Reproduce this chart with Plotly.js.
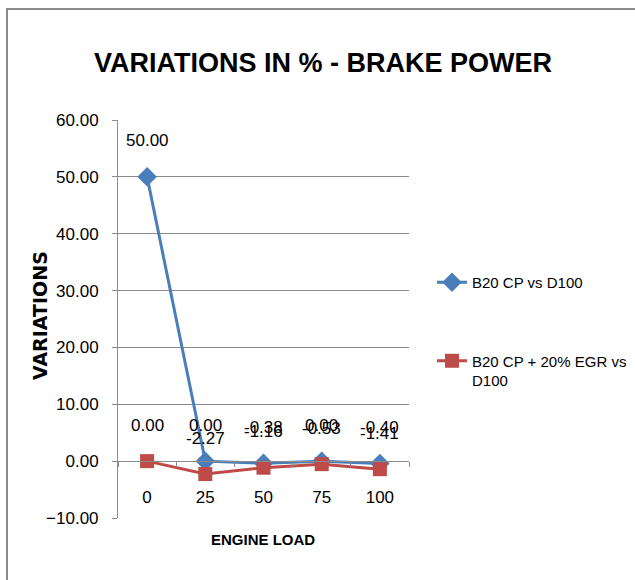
<!DOCTYPE html>
<html>
<head>
<meta charset="utf-8">
<script src="https://cdn.plot.ly/plotly-3.0.1.min.js"></script>
<style>
  html, body { margin: 0; padding: 0; background: #fff; overflow: hidden; width: 635px; height: 580px; }
  #wrap { position: relative; width: 635px; height: 580px; overflow: hidden; background: #fff; }
  #chart { position: absolute; left: 0; top: 0; width: 635px; height: 580px; }
  .fr { position: absolute; background: #8c8c8c; pointer-events: none; }
  .cover { position: absolute; background: #fff; pointer-events: none; }
</style>
</head>
<body>
<div id="wrap">
  <div id="chart"></div>
  <div class="cover" style="left:627px; top:12px; width:8px; height:568px;"></div>
  <div class="fr" style="left:6px; top:8px; width:629px; height:2px;"></div>
  <div class="fr" style="left:6px; top:8px; width:2px; height:572px;"></div>
</div>
<script>
// ---- data ----
const engineLoad = ["0", "25", "50", "75", "100"];
const seriesNames = ["B20 CP vs D100", "B20 CP + 20% EGR vs<br>D100"];
const b20cp = [50.00, 0.00, -0.38, 0.00, -0.40];
const b20cpEgr = [0.00, -2.27, -1.16, -0.53, -1.41];
const yTickVals = [-10, 0, 10, 20, 30, 40, 50, 60];

// ---- layout helpers (pixels) ----
const W = 635, H = 580;
const plotL = 118, plotR = 409, plotT = 120, plotB = 518;
const pw = plotR - plotL, ph = plotB - plotT;
const px2x = p => (p - plotL) / pw;
const px2y = p => (plotB - p) / ph;

const sans = "Liberation Sans, Arial, sans-serif";
const blue = "#4A7EBB", red = "#BE4B48";

const traces = [
  {
    x: engineLoad, y: b20cp, name: seriesNames[0], type: "scatter", mode: "lines+markers",
    line: { color: blue, width: 3 },
    marker: { symbol: "diamond", size: 15, color: blue },
    legendgroup: "a", cliponaxis: false
  },
  {
    x: engineLoad, y: b20cpEgr, name: seriesNames[1], type: "scatter", mode: "lines+markers",
    line: { color: red, width: 3 },
    marker: { symbol: "square", size: 14, color: red },
    legendgroup: "b", cliponaxis: false
  }
];

const annotations = [];
[b20cp, b20cpEgr].forEach(vals => {
  vals.forEach((v, i) => {
    annotations.push({
      x: i, y: v, xref: "x", yref: "y",
      text: v.toFixed(2), showarrow: false, yshift: 36,
      font: { family: sans, size: 17, color: "#000" }
    });
  });
});
annotations.push({
  xref: "paper", yref: "paper", x: px2x(40), y: px2y(316),
  text: "VARIATIONS", textangle: -90, showarrow: false,
  xanchor: "center", yanchor: "middle",
  font: { family: "DejaVu Sans, sans-serif", size: 19, color: "#000", weight: "bold" }
});
annotations.push({
  xref: "paper", yref: "paper", x: px2x(263), y: px2y(539),
  text: "ENGINE LOAD", showarrow: false, xanchor: "center", yanchor: "middle",
  font: { family: sans, size: 15, color: "#000", weight: "bold" }
});

const layout = {
  width: W, height: H,
  margin: { l: plotL, r: W - plotR, t: plotT, b: H - plotB, autoexpand: false },
  paper_bgcolor: "#fff", plot_bgcolor: "#fff",
  title: {
    text: "VARIATIONS IN % - BRAKE POWER",
    font: { family: sans, size: 27, color: "#000", weight: "bold" },
    x: 323 / W, xref: "container", xanchor: "center",
    y: 1 - 63 / H, yref: "container", yanchor: "middle"
  },
  xaxis: {
    type: "category", categoryorder: "array", categoryarray: engineLoad,
    range: [-0.5, engineLoad.length - 0.5],
    anchor: "free", position: (0 - (-10)) / 70,
    showline: true, linecolor: "#8c8c8c", linewidth: 1,
    ticks: "outside", ticklen: 5, tickcolor: "#8c8c8c", tickson: "boundaries",
    showgrid: false, zeroline: false, tickangle: 0,
    ticklabelstandoff: 20,
    tickfont: { family: sans, size: 17, color: "#000" },
    automargin: false
  },
  yaxis: {
    range: [-10, 60], tickvals: yTickVals,
    tickformat: ".2f",
    showline: true, linecolor: "#8c8c8c", linewidth: 1,
    ticks: "outside", ticklen: 5, tickcolor: "#8c8c8c",
    showgrid: true, gridcolor: "#8c8c8c", gridwidth: 1, zeroline: false,
    ticklabelstandoff: 10,
    tickfont: { family: sans, size: 17, color: "#000" },
    automargin: false
  },
  showlegend: true,
  legend: {
    xref: "container", yref: "container",
    x: 432 / W, y: 1 - 266 / H, xanchor: "left", yanchor: "top", valign: "top",
    traceorder: "grouped", tracegroupgap: 56, borderwidth: 0,
    font: { family: sans, size: 15, color: "#000" }, bgcolor: "rgba(0,0,0,0)"
  },
  annotations: annotations
};

Plotly.newPlot("chart", traces, layout, { displayModeBar: false, staticPlot: true });
</script>
</body>
</html>
